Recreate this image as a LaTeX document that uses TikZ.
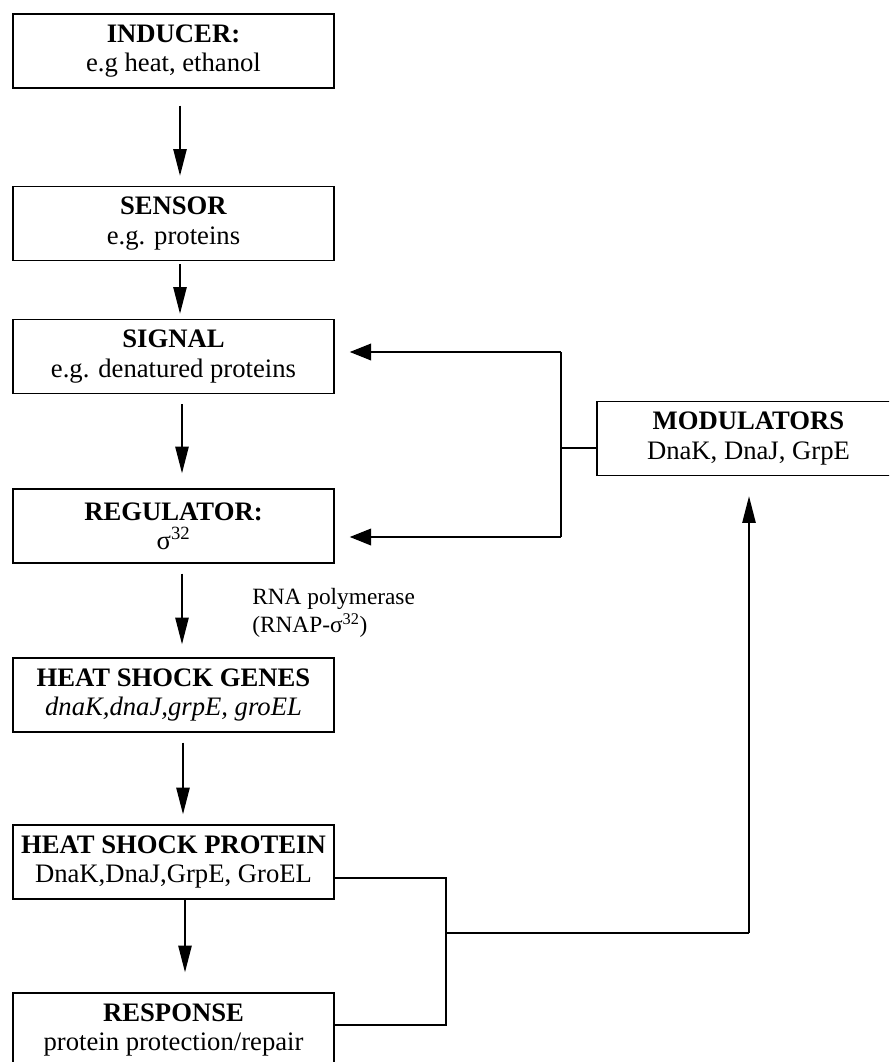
\documentclass[tikz,border=0pt]{standalone}
\usepackage{fontspec}
\setmainfont{Liberation Serif}
\usetikzlibrary{arrows.meta,calc}

\begin{document}
\begin{tikzpicture}[x=0.75pt,y=-0.75pt,
  box/.style={draw, line width=1.1pt, minimum width=240.75pt, minimum height=55.5pt,
              inner sep=0pt, align=center, font=\fontsize{20}{22}\selectfont},
  flow/.style={line width=1.1pt, -{Triangle[length=20pt,width=10pt]}},
  back/.style={line width=1.1pt, -{Triangle[length=16pt,width=12.5pt]}},
  wire/.style={line width=1.1pt},
  lbl/.style={inner sep=0pt, anchor=west, align=left, font=\fontsize{17.5}{21.5}\selectfont}]

\clip (0,0) rectangle (889,1062);

% main cascade
\node[box] (inducer)   at (173.5,51)   {\textbf{INDUCER:}\\e.g heat, ethanol};
\node[box] (sensor)    at (173.5,223.5) {\textbf{SENSOR}\\e.g. proteins};
\node[box] (signal)    at (173.5,356.5) {\textbf{SIGNAL}\\e.g. denatured proteins};
\node[box] (regulator) at (173.5,526)  {\textbf{REGULATOR:}\\σ\textsuperscript{32}};
\node[box] (genes)     at (173.5,695)  {\textbf{HEAT SHOCK GENES}\\\textit{dnaK,dnaJ,grpE, groEL}};
\node[box] (protein)   at (173.5,862)  {\textbf{HEAT SHOCK PROTEIN}\\DnaK,DnaJ,GrpE, GroEL};
\node[box] (response)  at (173.5,1030) {\textbf{RESPONSE}\\protein protection/repair};

% feedback box
\node[box, minimum width=227.25pt] (mod) at (748.5,438.5) {\textbf{MODULATORS}\\DnaK, DnaJ, GrpE};

\node[lbl] (rnap) at (252,613) {RNA polymerase\\(RNAP-σ\textsuperscript{32})};

% downward arrows
\draw[flow, shorten <=12.75pt, shorten >=7.5pt]
  ($(inducer.south)+(6.5,0)$) -- ($(sensor.north)+(6.5,0)$);
\draw[flow, shorten <=2.25pt, shorten >=3.75pt]
  ($(sensor.south)+(6.5,0)$) -- ($(signal.north)+(6.5,0)$);
\draw[flow, shorten <=7.5pt, shorten >=11.25pt]
  ($(signal.south)+(8.5,0)$) -- ($(regulator.north)+(8.5,0)$);
\draw[flow, shorten <=7.5pt, shorten >=9.75pt]
  ($(regulator.south)+(8.5,0)$) -- ($(genes.north)+(8.5,0)$);
\draw[flow, shorten <=7.5pt, shorten >=7.5pt]
  ($(genes.south)+(9.5,0)$) -- ($(protein.north)+(9.5,0)$);
\draw[flow, shorten <=0pt, shorten >=15pt]
  ($(protein.south)+(11.5,0)$) -- ($(response.north)+(11.5,0)$);

% junction points of the feedback loop
\coordinate (jtop)  at (561,352);
\coordinate (jbot)  at (561,537);
\coordinate (jmod)  at (561,448);
\coordinate (ktop)  at (446,878);
\coordinate (kbot)  at (446,1025);
\coordinate (kmid)  at (446,933);
\coordinate (mbase) at (749,933);

% modulators back to signal and regulator
\draw[wire] (jtop) -- (jbot);
\draw[wire] (jmod) -- (jmod -| mod.west);
\draw[back, shorten >=11.25pt] (jtop) -- (jtop -| signal.east);
\draw[back, shorten >=11.25pt] (jbot) -- (jbot -| regulator.east);

% heat shock proteins and response feed the modulators
\draw[wire] (protein.east |- ktop) -- (ktop) -- (kbot) -- (response.east |- kbot);
\draw[wire] (kmid) -- (mbase);
\draw[flow, shorten >=15pt] (mbase) -- (mod.south -| mbase);

\end{tikzpicture}
\end{document}
